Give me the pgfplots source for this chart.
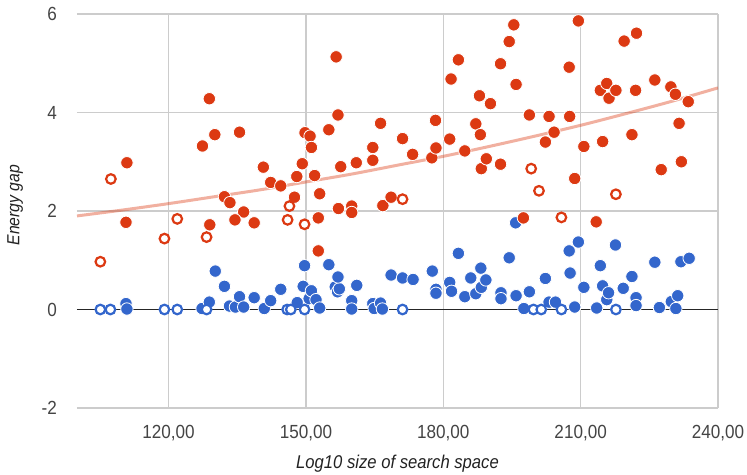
\documentclass[border=0pt]{standalone}
\usepackage{fontspec}
\setmainfont{Liberation Sans}[FakeStretch=0.9]
\usepackage{pgfplots}
\pgfplotsset{compat=1.18}
\definecolor{gred}{HTML}{DC3912}
\definecolor{gblue}{HTML}{3366CC}
\definecolor{gridgray}{HTML}{CCCCCC}
\definecolor{ticktext}{HTML}{444444}
\definecolor{titletext}{HTML}{222222}

\begin{document}
\begin{tikzpicture}
\begin{axis}[
  scale only axis, width=641bp, height=394bp,
  xmin=100, xmax=240, ymin=-2, ymax=6,
  axis line style={draw=none},
  xtick={120,150,180,210,240},
  xticklabels={{120,00},{150,00},{180,00},{210,00},{240,00}},
  ytick={-2,0,2,4,6},
  yticklabels={-2,0,2,4,6},
  major tick length=0pt,
  grid=major,
  grid style={gridgray, line width=1.2bp},
  extra y ticks={0}, extra y tick labels={},
  extra y tick style={grid style={black!85, line width=1.5bp}},
  tick label style={font=\fontsize{19bp}{22bp}\selectfont, text=ticktext, inner sep=0pt},
  xticklabel style={anchor=north, yshift=-17bp},
  yticklabel style={anchor=east, xshift=-20bp},
  xlabel={\itshape Log10 size of search space},
  ylabel={\itshape Energy gap},
  every axis x label/.style={at={(axis description cs:0.5,0)}, anchor=north, yshift=-47bp, inner sep=0pt, font=\fontsize{18.5bp}{22bp}\selectfont, text=titletext},
  every axis y label/.style={at={(axis description cs:-0.109,0.515)}, rotate=90, anchor=north, inner sep=0pt, font=\fontsize{17.5bp}{21bp}\selectfont, text=titletext},
]
% trend line
\addplot[smooth, gred, draw opacity=0.4, line width=3bp] coordinates {
  (100,1.90) (110,2.02) (120,2.15) (130,2.29) (140,2.43) (150,2.59) (160,2.75)
  (170,2.93) (180,3.11) (190,3.31) (200,3.52) (210,3.74) (220,3.98) (230,4.23) (240,4.50)
};
% blue filled
\addplot[only marks, mark=*, mark size=6.2bp, mark options={fill=gblue, draw=white, line width=0.8bp}] coordinates {
  (110.7,0.12) (110.9,0.01) (127.3,0.02) (128.9,0.15) (130.2,0.78) (132.2,0.47)
  (133.3,0.07) (134.6,0.05) (135.5,0.26) (136.4,0.05) (138.7,0.24) (140.9,0.02)
  (142.3,0.18) (144.5,0.41) (148.1,0.14) (149.4,0.47) (149.7,0.89) (150.7,0.22)
  (151.2,0.38) (152.2,0.20) (153.0,0.03) (155.0,0.91) (156.4,0.46) (156.9,0.36)
  (157.3,0.42) (157.0,0.66) (160.0,0.18) (160.0,0.01) (161.1,0.49) (164.6,0.12)
  (164.9,0.02) (166.3,0.13) (166.7,0.01) (168.6,0.70) (171.1,0.64) (173.4,0.61)
  (177.6,0.78) (178.4,0.41) (178.4,0.33) (181.4,0.55) (181.8,0.37) (183.3,1.14)
  (184.7,0.26) (186.0,0.64) (187.1,0.32) (188.2,0.84) (188.3,0.45) (189.3,0.60)
  (192.6,0.34) (192.6,0.22) (194.4,1.05) (195.8,1.76) (195.9,0.28) (197.6,0.02)
  (198.8,0.36) (202.3,0.63) (203.1,0.15) (204.5,0.15) (207.5,1.19) (207.7,0.74)
  (208.7,0.05) (209.5,1.37) (210.7,0.45) (213.5,0.03) (214.3,0.89) (214.8,0.48)
  (215.7,0.20) (216.1,0.34) (217.6,1.31) (219.3,0.43) (221.2,0.67) (222.1,0.24)
  (222.1,0.08) (226.2,0.96) (227.2,0.04) (229.8,0.16) (230.8,0.02) (231.2,0.28)
  (231.9,0.97) (233.7,1.04)
};
% blue open
\addplot[only marks, mark=*, mark size=4.8bp, mark options={fill=white, draw=gblue, line width=2.2bp}] coordinates {
  (105.1,0) (107.3,0) (119.1,0) (121.9,0) (128.3,0) (145.9,0) (146.7,0)
  (149.7,0) (171.1,0) (199.7,0) (201.4,0) (205.8,0) (217.7,0)
};
% red filled
\addplot[only marks, mark=*, mark size=6.2bp, mark options={fill=gred, draw=white, line width=0.8bp}] coordinates {
  (110.9,2.98) (110.7,1.77) (128.9,4.28) (130.1,3.55) (127.4,3.32) (135.5,3.60)
  (132.2,2.29) (133.4,2.17) (136.4,1.98) (134.5,1.82) (129.0,1.72) (138.7,1.76)
  (140.7,2.89) (142.3,2.58) (144.5,2.51) (147.5,2.28) (148.0,2.70) (149.2,2.96)
  (149.8,3.59) (150.9,3.52) (151.2,3.29) (151.9,2.72) (153.0,2.35) (152.7,1.86)
  (152.7,1.19) (155.0,3.65) (156.6,5.13) (157.0,3.95) (157.6,2.90) (157.1,2.05)
  (160.0,2.10) (160.0,1.97) (161.0,2.98) (164.6,3.29) (164.6,3.03) (166.3,3.78)
  (166.8,2.11) (168.6,2.28) (171.1,3.47) (173.3,3.15) (177.5,3.08) (178.3,3.84)
  (178.4,3.28) (181.4,3.46) (181.7,4.68) (183.3,5.07) (184.7,3.22) (187.1,3.77)
  (187.9,4.34) (188.1,3.55) (188.3,2.86) (189.4,3.06) (190.3,4.18) (192.5,4.99)
  (192.5,2.95) (194.4,5.44) (195.4,5.78) (195.9,4.57) (197.5,1.86) (198.8,3.95)
  (202.3,3.40) (203.1,3.92) (204.2,3.60) (207.6,3.92) (207.5,4.92) (208.7,2.66)
  (209.5,5.86) (210.7,3.31) (213.4,1.78) (214.3,4.45) (214.8,3.41) (215.7,4.59)
  (216.2,4.29) (217.7,4.45) (219.5,5.45) (221.2,3.55) (222.0,4.45) (222.2,5.61)
  (226.2,4.66) (227.6,2.84) (229.7,4.52) (230.7,4.37) (231.5,3.78) (232.0,3.00)
  (233.5,4.22)
};
% red open
\addplot[only marks, mark=*, mark size=4.8bp, mark options={fill=white, draw=gred, line width=2.2bp}] coordinates {
  (105.1,0.97) (107.4,2.65) (119.1,1.44) (121.9,1.84) (128.3,1.47) (146.4,2.10)
  (146.0,1.82) (149.7,1.73) (171.1,2.24) (199.2,2.86) (200.9,2.41) (205.8,1.87)
  (217.7,2.34)
};
\end{axis}
\pgfresetboundingbox
\useasboundingbox (-77bp,-67bp) rectangle (670bp,408bp);
\end{tikzpicture}
\end{document}
